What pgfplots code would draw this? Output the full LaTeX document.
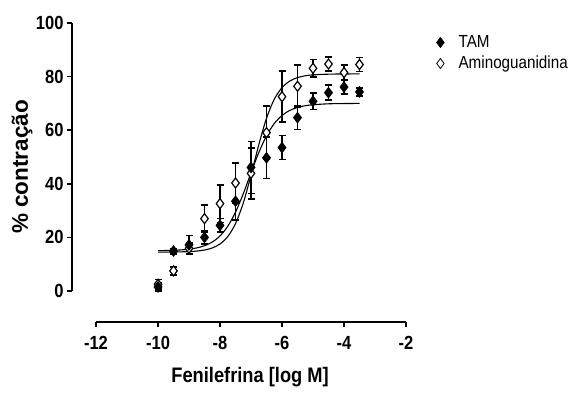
\documentclass[border=0pt]{standalone}
\usepackage{fontspec}
\setmainfont{Liberation Sans}
\newfontfamily\narrowfont[FakeStretch=0.87]{Liberation Sans}
\usepackage{pgfplots}
\pgfplotsset{compat=1.18}
\usepackage{pgfplotstable}
\pgfplotstableread{
x y e
-10 1.5 1.5
-9.5 14.9 1.0
-9 17.2 3.5
-8.5 20.0 2.5
-8 24.5 2.5
-7.5 33.5 7.0
-7 46.1 9.7
-6.5 49.7 7.7
-6 53.5 4.5
-5.5 64.7 4.4
-5 70.8 3.0
-4.5 74.0 2.8
-4 76.1 2.5
-3.5 74.3 1.5
}\tamdata
\pgfplotstableread{
x y e
-10 2.5 1.8
-9.5 7.5 1.5
-9 15.9 2.0
-8.5 27.0 5.0
-8 32.6 7.0
-7.5 40.3 7.5
-7 43.9 9.5
-6.5 59.1 10.0
-6 72.5 9.5
-5.5 76.4 8.0
-5 83.1 3.3
-4.5 84.7 2.7
-4 81.5 2.8
-3.5 84.5 2.6
}\amidata
\begin{document}
\begin{tikzpicture}
\path[use as bounding box] (-96pt,-101pt) rectangle (484pt,291pt);
\begin{axis}[
  at={(0pt,0pt)}, anchor=south west,
  scale only axis, width=310pt, height=268pt,
  xmin=-12, xmax=-2, ymin=0, ymax=100,
  clip=false,
  axis x line*=bottom, axis y line*=left,
  axis x line shift=31pt, axis y line shift=24pt,
  axis line style={line width=1.6pt, black},
  xtick={-12,-10,-8,-6,-4,-2}, xticklabels={-12,-10,-8,-6,-4,-2},
  ytick={0,20,40,60,80,100}, yticklabels={0,20,40,60,80,100},
  tick align=outside, major tick length=5pt,
  tick style={line width=1.6pt, black},
  ticklabel style={font=\narrowfont\bfseries\fontsize{19}{21}\selectfont},
  xticklabel style={yshift=-6pt},
  xlabel={Fenilefrina [log M]}, ylabel={\% contração},
  xlabel style={font=\narrowfont\bfseries\fontsize{21}{24}\selectfont, at={(axis description cs:0.497,-0.321)}, anchor=center},
  ylabel style={font=\bfseries\fontsize{22.5}{26}\selectfont, at={(axis description cs:-0.2387,0.463)}, anchor=center},
  legend style={at={(axis description cs:1.0935,0.888)}, anchor=west, draw=none, fill=none, inner sep=0pt,
    font=\narrowfont\fontsize{17.5}{20}\selectfont, row sep=3pt,
    nodes={inner sep=1pt, text height=13pt, text depth=3pt}},
  legend cell align=left,
]
\addlegendimage{legend image code/.code={\path (-5pt,0pt) (17pt,0pt); \draw[black, fill=black, line width=0.8pt, mark=diamond*, mark size=5pt] plot coordinates {(0pt,0pt)};}}
\addlegendentry{TAM}
\addlegendimage{legend image code/.code={\path (-5pt,0pt) (17pt,0pt); \draw[black, fill=white, line width=0.8pt, mark=diamond*, mark size=5pt, mark options={fill=white}] plot coordinates {(0pt,0pt)};}}
\addlegendentry{Aminoguanidina}

% fitted curves
\addplot[black, line width=1.1pt, smooth, forget plot] coordinates {
(-10,15.06) (-9.75,15.11) (-9.5,15.19) (-9.25,15.34) (-9,15.61) (-8.75,16.08)
(-8.5,16.88) (-8.25,18.26) (-8,20.55) (-7.75,24.15) (-7.5,29.41) (-7.25,36.28)
(-7,44.08) (-6.75,51.64) (-6.5,57.90) (-6.25,62.49) (-6,65.50) (-5.75,67.38)
(-5.5,68.49) (-5.25,69.14) (-5,69.51) (-4.5,69.85) (-4,69.95) (-3.5,70.0)};
\addplot[black, line width=1.1pt, smooth, forget plot] coordinates {
(-10,14.51) (-9.5,14.55) (-9,14.70) (-8.75,14.90) (-8.5,15.29) (-8.25,16.06)
(-8,17.54) (-7.75,20.30) (-7.5,25.14) (-7.25,32.82) (-7,43.19) (-6.75,54.53)
(-6.5,64.46) (-6.25,71.53) (-6,75.89) (-5.75,78.34) (-5.5,79.64) (-5.25,80.31)
(-5,80.65) (-4.5,80.91) (-4,80.98) (-3.5,81.0)};

% data
\addplot[only marks, black, line width=1.2pt, mark=diamond*, mark size=5pt, mark options={fill=white, draw=black, line width=1.2pt}, forget plot,
  error bars/.cd, y dir=both, y explicit, error mark=|, error bar style={line width=1.2pt, black}, error mark options={line width=1.5pt, mark size=3.5pt, black}]
  table[x=x, y=y, y error=e] {\amidata};
\addplot[only marks, black, line width=1.2pt, mark=diamond*, mark size=5pt, mark options={fill=black, draw=black, line width=1.2pt}, forget plot,
  error bars/.cd, y dir=both, y explicit, error mark=|, error bar style={line width=1.2pt, black}, error mark options={line width=1.5pt, mark size=3.5pt, black}]
  table[x=x, y=y, y error=e] {\tamdata};
\end{axis}
\end{tikzpicture}
\end{document}
